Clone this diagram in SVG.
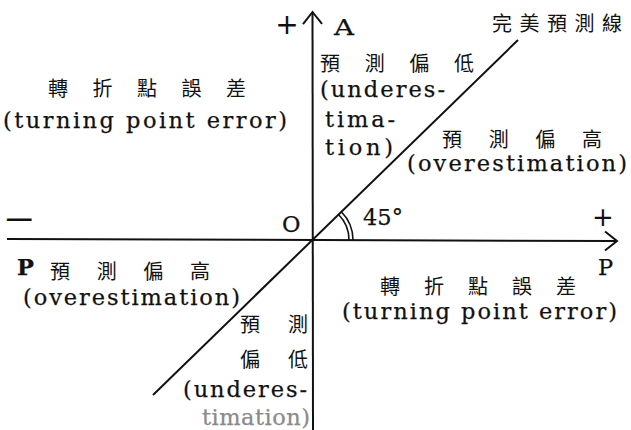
<svg xmlns="http://www.w3.org/2000/svg" width="631" height="430" viewBox="0 0 631 430">
<style>
.lat{font-family:"DejaVu Serif","Liberation Serif",serif;font-size:22.5px;fill:#111;stroke:#111;stroke-width:0.25}
.cjk{font-family:"Noto Sans CJK TC","Noto Sans CJK SC",sans-serif;font-size:20px;fill:#111}
.sym{font-family:"DejaVu Sans","Liberation Sans",sans-serif;fill:#111}
.ln{stroke:#111;stroke-width:2;fill:none}
.arc{stroke:#111;stroke-width:1.6;fill:none}
.faint{fill:#8a8a8a;stroke:#8a8a8a}
</style>
<defs>
<marker id="arr" markerUnits="userSpaceOnUse" markerWidth="30" markerHeight="30" refX="0" refY="0" viewBox="-15 -15 30 30" orient="auto" overflow="visible">
<path d="M-12,-9.5 L0,0 L-12,9.5" fill="none" stroke="#111" stroke-width="2"/>
</marker>
</defs>
<rect width="631" height="430" fill="#fff"/>
<g id="connectors">
<line class="ln" x1="7" y1="239" x2="617" y2="241" marker-end="url(#arr)"/>
<line class="ln" x1="313" y1="430" x2="312.5" y2="12" marker-end="url(#arr)"/>
<line class="ln" x1="153" y1="395" x2="518" y2="40"/>
<path class="arc" d="M349,240 A36,36 0 0 0 338.5,214.5"/>
<path class="arc" d="M353,240 A40,40 0 0 0 341.3,211.7"/>
</g>
<g id="axis-labels">
<text class="sym" x="287" y="34" font-size="28" text-anchor="middle">+</text>
<text class="lat" x="334" y="35" font-size="20" textLength="20" lengthAdjust="spacingAndGlyphs">A</text>
<text class="sym" x="603" y="226" font-size="26" text-anchor="middle">+</text>
<text class="lat" x="598" y="275" font-size="21">P</text>
<text class="sym" x="3" y="230" font-size="32" textLength="33" lengthAdjust="spacingAndGlyphs">−</text>
<text class="lat" x="17" y="275" font-size="19" font-weight="bold">P</text>
<text class="lat" x="282" y="232" font-size="21">O</text>
<text class="lat" x="363" y="225" font-size="22">45°</text>
</g>
<g id="perfect-line-label">
<text class="cjk" y="30.5" font-size="26" x="492 519.5 547 574.5 602">完美預測線</text>
</g>
<g id="tl-turning-point">
<text class="cjk" y="95.5" x="48 92.5 137 181.5 226">轉折點誤差</text>
<text class="lat" x="3" y="128" textLength="284" lengthAdjust="spacing">(turning point error)</text>
</g>
<g id="tr-under">
<text class="cjk" y="70.5" x="320 364.7 409.3 454">預測偏低</text>
<text class="lat" x="320" y="97" textLength="125" lengthAdjust="spacing">(underes-</text>
<text class="lat" x="325" y="127" textLength="70" lengthAdjust="spacing">tima-</text>
<text class="lat" x="325" y="155" textLength="68" lengthAdjust="spacing">tion)</text>
</g>
<g id="tr-over">
<text class="cjk" y="146.7" font-size="19" x="442 488.7 535.3 582">預測偏高</text>
<text class="lat" x="407" y="171" textLength="220" lengthAdjust="spacing">(overestimation)</text>
</g>
<g id="bl-over">
<text class="cjk" y="278.7" font-size="19" x="50 96.7 143.3 190">預測偏高</text>
<text class="lat" x="23" y="305" textLength="217" lengthAdjust="spacing">(overestimation)</text>
</g>
<g id="br-turning-point">
<text class="cjk" y="294" x="380 424 468 512 556">轉折點誤差</text>
<text class="lat" x="342" y="319" textLength="275" lengthAdjust="spacing">(turning point error)</text>
</g>
<g id="bl-under">
<text class="cjk" y="331.6" x="240 288">預測</text>
<text class="cjk" y="366.5" x="240 288">偏低</text>
<text class="lat" x="183" y="397" textLength="124" lengthAdjust="spacing">(underes-</text>
<text class="lat faint" x="202" y="425" textLength="108" lengthAdjust="spacing">timation)</text>
</g>
</svg>
